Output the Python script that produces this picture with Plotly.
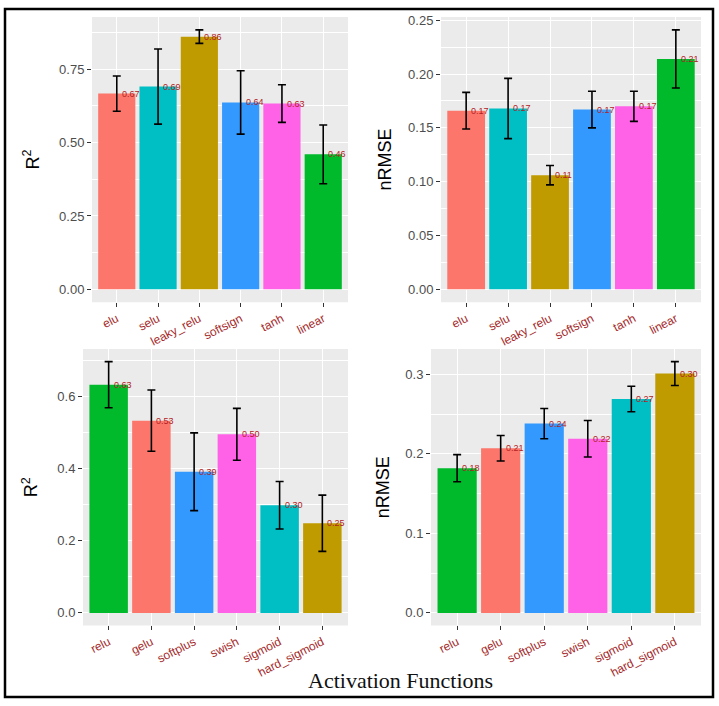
import plotly.graph_objects as go

# top row: first group of activations
acts_top = ["elu", "selu", "leaky_relu", "softsign", "tanh", "linear"]
r2_top = [0.667, 0.691, 0.861, 0.637, 0.633, 0.460]
r2_top_err = [0.060, 0.128, 0.023, 0.108, 0.064, 0.100]
nrmse_top = [0.166, 0.168, 0.106, 0.167, 0.170, 0.214]
nrmse_top_err = [0.017, 0.028, 0.009, 0.017, 0.014, 0.027]

# bottom row: second group of activations
acts_bot = ["relu", "gelu", "softplus", "swish", "sigmoid", "hard_sigmoid"]
r2_bot = [0.634, 0.534, 0.392, 0.496, 0.299, 0.249]
r2_bot_err = [0.064, 0.085, 0.108, 0.072, 0.066, 0.078]
nrmse_bot = [0.182, 0.207, 0.238, 0.219, 0.269, 0.301]
nrmse_bot_err = [0.017, 0.016, 0.019, 0.023, 0.016, 0.015]

SALMON, TEAL, OLIVE = "#FC766B", "#00BFC4", "#C09B00"
BLUE, PINK, GREEN = "#3399FF", "#FF62E6", "#00BA2C"
colors_top = [SALMON, TEAL, OLIVE, BLUE, PINK, GREEN]
colors_bot = [GREEN, SALMON, BLUE, PINK, TEAL, OLIVE]

W, H = 719, 706
fig = go.Figure()


def add_panel(idx, cats, vals, errs, cols, px_box, dtick, fmt, title, title_x):
    x0, x1, y0, y1 = px_box
    xa = "x" if idx == 1 else f"x{idx}"
    ya = "y" if idx == 1 else f"y{idx}"
    fig.add_trace(go.Bar(
        x=cats, y=vals, marker=dict(color=cols, line=dict(width=0)), width=0.9,
        error_y=dict(type="data", array=errs, color="black", thickness=1.6, width=4),
        xaxis=xa, yaxis=ya, showlegend=False, hoverinfo="skip",
    ))
    # value labels just right of each bar centre, at bar height
    for c, v in zip(cats, vals):
        fig.add_annotation(x=c, y=v, xref=xa, yref=ya, text=f"{v:.2f}", showarrow=False,
                           xanchor="left", yanchor="middle", xshift=3,
                           font=dict(size=9, color="#B22222"))
    top = max(v + e for v, e in zip(vals, errs))
    common = dict(ticks="outside", ticklen=4, tickwidth=1.4, tickcolor="#333333",
                  showline=False, zeroline=False, gridcolor="white", gridwidth=1.3)
    fig.update_layout(**{
        ("xaxis" if idx == 1 else f"xaxis{idx}"): dict(
            domain=[x0 / W, x1 / W], anchor=ya, range=[-0.6, 5.6], tickangle=-27,
            tickfont=dict(size=12, color="#A52A2A"), **common),
        ("yaxis" if idx == 1 else f"yaxis{idx}"): dict(
            domain=[1 - y1 / H, 1 - y0 / H], anchor=xa, range=[-0.05 * top, 1.05 * top],
            dtick=dtick, tick0=0, tickformat=fmt, tickfont=dict(size=13, color="#4D4D4D"),
            minor=dict(dtick=dtick / 2, tick0=0, showgrid=True, gridcolor="white", gridwidth=0.6, ticks=""),
            **common),
    })
    fig.add_annotation(text=title, textangle=-90, xref="paper", yref="paper",
                       x=title_x / W, y=1 - (y0 + y1) / 2 / H, showarrow=False,
                       xanchor="center", yanchor="middle",
                       font=dict(size=18, color="black"))
    fig.add_shape(type="rect", xref="paper", yref="paper", layer="below",
                  x0=x0 / W, x1=x1 / W, y0=1 - y1 / H, y1=1 - y0 / H,
                  fillcolor="#EBEBEB", line=dict(width=0))


add_panel(1, acts_top, r2_top, r2_top_err, colors_top, (92, 348, 13, 300), 0.25, ".2f", "R<sup>2</sup>", 32)
add_panel(2, acts_top, nrmse_top, nrmse_top_err, colors_top, (441, 701, 13, 300), 0.05, ".2f", "nRMSE", 385)
add_panel(3, acts_bot, r2_bot, r2_bot_err, colors_bot, (83, 348, 347, 625), 0.2, ".1f", "R<sup>2</sup>", 30)
add_panel(4, acts_bot, nrmse_bot, nrmse_bot_err, colors_bot, (431, 701, 347, 625), 0.1, ".1f", "nRMSE", 383)

fig.add_annotation(text="Activation Functions", xref="paper", yref="paper", x=400 / W, y=1 - 680 / H,
                   xanchor="center", yanchor="middle", showarrow=False,
                   font=dict(family="Liberation Serif, Times New Roman, serif", size=22, color="#111111"))
fig.add_shape(type="rect", xref="paper", yref="paper", x0=5 / W, x1=713 / W, y0=1 - 697 / H, y1=1 - 5 / H,
              line=dict(color="black", width=2.5))

fig.update_layout(width=W, height=H, margin=dict(l=0, r=0, t=0, b=0),
                  font=dict(family="Liberation Sans, Arial, sans-serif"),
                  plot_bgcolor="white", paper_bgcolor="white", bargap=0.1)
fig.write_html("out.html", config={"displayModeBar": False},
               post_script="document.body.style.margin='0px';")
